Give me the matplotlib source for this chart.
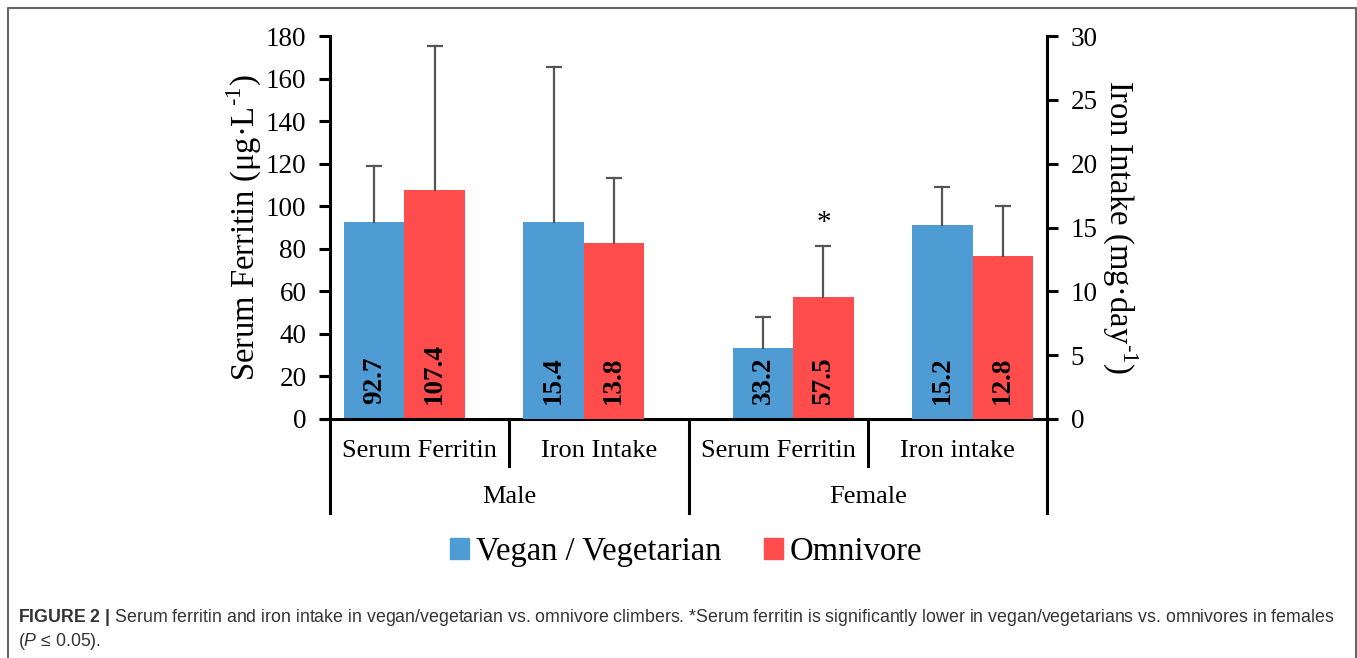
import matplotlib
matplotlib.use('Agg')
import matplotlib.pyplot as plt
import matplotlib.transforms as mtransforms
from matplotlib.patches import Patch
from matplotlib.lines import Line2D

plt.rcParams['font.family'] = ['Liberation Serif', 'DejaVu Serif']
plt.rcParams['mathtext.fontset'] = 'custom'
plt.rcParams['mathtext.rm'] = 'Liberation Sans'
plt.rcParams['mathtext.bf'] = 'Liberation Sans:bold'
plt.rcParams['mathtext.it'] = 'Liberation Sans:italic'

# data
groups = ['Male', 'Female']
measures = ['Serum Ferritin', 'Iron Intake', 'Serum Ferritin', 'Iron intake']
is_ferritin = [True, False, True, False]
vegan_mean = [92.7, 15.4, 33.2, 15.2]
omni_mean = [107.4, 13.8, 57.5, 12.8]
vegan_sd = [26.1, 12.2, 14.7, 3.0]
omni_sd = [67.9, 5.1, 23.8, 3.9]
series_names = ['Vegan / Vegetarian', 'Omnivore']
colors = ['#4F9BD4', '#FF4C4C']

W, H = 1357, 658
fig = plt.figure(figsize=(W / 100, H / 100), dpi=100)
ax = fig.add_axes([330 / W, 1 - 419 / H, (1047 - 330) / W, (419 - 36) / H])
ax2 = ax.twinx()

bw = 0.336
for i in range(len(measures)):
    c = i + 0.5 + (-0.085 if i < 2 else 0.085)
    a = ax if is_ferritin[i] else ax2
    xs = [c - bw / 2, c + bw / 2]
    ms = [vegan_mean[i], omni_mean[i]]
    sds = [vegan_sd[i], omni_sd[i]]
    for x, m, sd, col in zip(xs, ms, sds, colors):
        a.bar(x, m, width=bw, color=col, zorder=2)
        # upper error bar only
        a.plot([x, x], [m, m + sd], color='#555555', lw=1.6, zorder=3)
        a.plot([x], [m + sd], marker='_', ms=12, mew=1.6, color='#555555', zorder=3)
        a.annotate(f'{m:.1f}', (x, 0), xytext=(0, 11), textcoords='offset points',
                   rotation=90, ha='center', va='bottom', fontsize=19.5,
                   fontweight='bold', zorder=4)
    if i == 2:
        a.annotate('*', (xs[1], omni_mean[i] + omni_sd[i]), xytext=(0, 7),
                   textcoords='offset points', ha='center', va='bottom', fontsize=21)

ax.set_xlim(0, 4)
ax.set_ylim(0, 180)
ax2.set_ylim(0, 30)
ax.set_yticks(range(0, 181, 20))
ax2.set_yticks(range(0, 31, 5))
ax.set_xticks([])

for a in (ax, ax2):
    for s in a.spines.values():
        s.set_visible(False)
ax.spines['left'].set_visible(True)
ax2.spines['right'].set_visible(True)
ax.spines['left'].set_linewidth(2.2)
ax2.spines['right'].set_linewidth(2.2)
ax.tick_params(axis='y', direction='out', length=8, width=2.2, pad=9, labelsize=19.5)
ax2.tick_params(axis='y', direction='out', length=8, width=2.2, pad=9, labelsize=19.5)

ax.set_ylabel('Serum Ferritin (μg·L$^{\\mathregular{\\text{-}1}}$)', fontsize=23.5,
              labelpad=2)
ax2.set_ylabel('Iron Intake (mg·day$^{\\mathregular{\\text{-}1}}$)', fontsize=23.5,
               labelpad=30, rotation=270)

# x axis line and category separators
trans = mtransforms.blended_transform_factory(ax.transData, ax.transAxes)
ax.plot([-0.05, 4.05], [0, 0], transform=trans, color='black', lw=2.2,
        clip_on=False, zorder=5)
for k in range(5):
    depth = -0.2454 if k % 2 == 0 else -0.1227
    ax.plot([k, k], [0, depth], transform=trans, color='black', lw=2.2,
            clip_on=False, zorder=5)
for i, lab in enumerate(measures):
    ax.text(i + 0.5, -0.0836, lab, transform=trans, ha='center', va='center',
            fontsize=19)
for g, lab in enumerate(groups):
    ax.text(2 * g + 1, -0.2037, lab, transform=trans, ha='center', va='center',
            fontsize=19)

handles = [Patch(color=c) for c in colors]
fig.legend(handles, series_names, loc='center', bbox_to_anchor=(686 / W, 1 - 552 / H),
           ncol=2, frameon=False, fontsize=23.5, handlelength=0.6, handleheight=0.6,
           handletextpad=0.2, columnspacing=1.3)

# caption
fig.text(18 / W, 1 - 617 / H,
         r'$\mathbf{FIGURE\ 2\ |}$ Serum ferritin and iron intake in vegan/vegetarian vs. '
         'omnivore climbers. *Serum ferritin is significantly lower in vegan/vegetarians '
         'vs. omnivores in females',
         family='Liberation Sans', fontsize=12.8, color='#333333', va='center', ha='left')
fig.text(18 / W, 1 - 641 / H, r'($\mathit{P}$ ≤ 0.05).',
         family=['Liberation Sans', 'DejaVu Sans'], fontsize=12.8, color='#333333',
         va='center', ha='left')

# outer frame
fig.add_artist(Line2D([7.5 / W, 7.5 / W, 1355.5 / W, 1355.5 / W],
                      [0, 1 - 8.3 / H, 1 - 8.3 / H, 0], transform=fig.transFigure,
                      color='#666666', lw=1.5))

plt.savefig('out.png', dpi=100)
